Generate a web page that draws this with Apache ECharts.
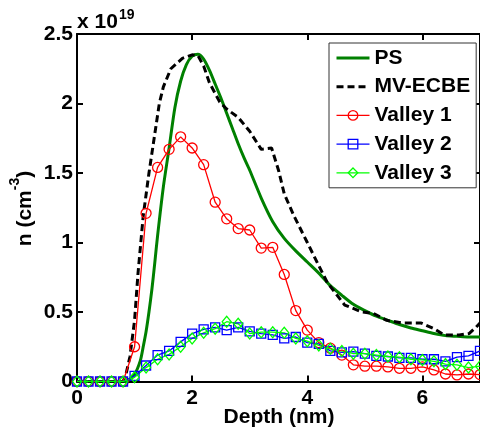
<!DOCTYPE html>
<html><head><meta charset="utf-8">
<script src="https://cdn.jsdelivr.net/npm/echarts@6/dist/echarts.min.js"></script>
<style>html,body{margin:0;padding:0;background:#fff}#c{width:480px;height:435px}</style>
</head><body><div id="c"></div>
<script>
// Depth grid for the valley curves (nm)
const depthV = [0,0.2,0.4,0.6,0.8,1.0,1.2,1.4,1.6,1.8,2.0,2.2,2.4,2.6,2.8,3.0,3.2,3.4,3.6,3.8,4.0,4.2,4.4,4.6,4.8,5.0,5.2,5.4,5.6,5.8,6.0,6.2,6.4,6.6,6.8,7.0];
// values in units of 1e19 cm^-3
const valley1 = [0,0,0,0,0,0.25,1.21,1.54,1.67,1.76,1.68,1.56,1.29,1.17,1.10,1.09,0.96,0.965,0.77,0.51,0.37,0.28,0.24,0.19,0.12,0.11,0.11,0.105,0.095,0.095,0.105,0.083,0.054,0.047,0.054,0.05];
const valley2 = [0,0,0,0,0,0.04,0.115,0.19,0.22,0.285,0.345,0.375,0.39,0.37,0.39,0.36,0.345,0.335,0.31,0.32,0.28,0.27,0.22,0.21,0.215,0.2,0.185,0.18,0.17,0.17,0.16,0.16,0.145,0.175,0.185,0.22];
const valley3 = [0,0,0,0,0,0.03,0.1,0.16,0.195,0.25,0.31,0.35,0.38,0.43,0.415,0.345,0.355,0.355,0.35,0.31,0.29,0.26,0.235,0.22,0.2,0.2,0.19,0.18,0.175,0.16,0.155,0.145,0.125,0.12,0.1,0.11];
const psDepth = [0,0.8,0.9,1.0,1.1,1.15,1.2,1.25,1.3,1.35,1.4,1.5,1.6,1.7,1.8,1.9,2.0,2.1,2.2,2.3,2.4,2.5,2.6,2.7,2.8,2.9,3.0,3.2,3.4,3.6,3.8,4.0,4.2,4.4,4.6,4.8,5.0,5.2,5.4,5.6,5.8,6.0,6.2,6.4,6.6,6.8,7.0];
const psN = [0,0,0.01,0.05,0.15,0.25,0.36,0.5,0.66,0.85,1.05,1.4,1.68,1.97,2.16,2.28,2.34,2.355,2.32,2.24,2.14,2.04,1.93,1.82,1.71,1.61,1.52,1.32,1.15,1.03,0.94,0.86,0.78,0.69,0.62,0.555,0.51,0.47,0.44,0.41,0.385,0.365,0.345,0.33,0.325,0.32,0.32];
const mvDepth = [0,0.8,0.85,0.92,1.0,1.06,1.15,1.25,1.34,1.43,1.5,1.63,1.83,2.0,2.1,2.2,2.3,2.48,2.6,2.8,3.0,3.2,3.38,3.5,3.6,3.77,4.0,4.18,4.35,4.65,4.95,5.15,5.38,5.66,5.98,6.2,6.38,6.64,6.81,6.93,7.0];
const mvN = [0,0,0.05,0.18,0.44,0.78,1.19,1.5,1.75,2.0,2.12,2.25,2.325,2.35,2.345,2.27,2.15,2.01,1.96,1.9,1.8,1.67,1.68,1.52,1.35,1.19,1.0,0.85,0.71,0.55,0.50,0.49,0.44,0.42,0.42,0.38,0.335,0.335,0.345,0.39,0.42];
const seriesNames = ['PS','MV-ECBE','Valley 1','Valley 2','Valley 3'];
const xRange = [0, 7], xStep = 2;
const yRange = [0, 2.5], yStep = 0.5;

const FONT = 'Liberation Sans, Arial, Helvetica, sans-serif';
const pair = (xs, ys) => xs.map((x, i) => [x, ys[i]]);
const C = {ps: '#008000', mv: '#000000', v1: '#ff0000', v2: '#0000ff', v3: '#00ff00'};

const chart = echarts.init(document.getElementById('c'), null, {renderer: 'canvas'});
const axisLine = {show: true, onZero: false, lineStyle: {color: '#000', width: 2}};
const axisTick = {show: true, inside: true, length: 6, lineStyle: {color: '#000', width: 2}};
const lbl = {color: '#000', fontSize: 21, fontWeight: 'bold', fontFamily: FONT};
const hollow = c => ({color: 'transparent', borderColor: c, borderWidth: 1.3});

chart.setOption({
  backgroundColor: '#fff',
  animation: false,
  grid: {left: 77, top: 34, width: 407, height: 347.5, containLabel: false},
  xAxis: [
    {type: 'value', min: xRange[0], max: xRange[1], interval: xStep, position: 'bottom',
     axisLine, axisTick, splitLine: {show: false},
     axisLabel: Object.assign({margin: 6, showMaxLabel: false}, lbl)},
    {type: 'value', min: xRange[0], max: xRange[1], interval: xStep, position: 'top',
     axisLine, axisTick, splitLine: {show: false}, axisLabel: {show: false}}
  ],
  yAxis: [
    {type: 'value', min: yRange[0], max: yRange[1], interval: yStep, position: 'left',
     axisLine, axisTick, splitLine: {show: false},
     axisLabel: Object.assign({margin: 4, formatter: v => String(v)}, lbl)},
    {type: 'value', min: yRange[0], max: yRange[1], interval: yStep, position: 'right',
     axisLine, axisTick, splitLine: {show: false}, axisLabel: {show: false}}
  ],
  legend: {
    orient: 'vertical', left: 329, top: 43,
    padding: [4.5, 6, 4.5, 6],
    itemWidth: 33, itemHeight: 12, itemGap: 7.7,
    backgroundColor: '#fff', borderColor: '#333', borderWidth: 1, borderRadius: 0,
    textStyle: {color: '#000', fontSize: 21, fontWeight: 'bold', fontFamily: FONT},
    data: [
      {name: seriesNames[0], itemStyle: {opacity: 0}, lineStyle: {color: C.ps, width: 3}},
      {name: seriesNames[1], itemStyle: {opacity: 0}, lineStyle: {color: C.mv, width: 3}},
      {name: seriesNames[2], itemStyle: hollow(C.v1), lineStyle: {color: C.v1, width: 1.3}},
      {name: seriesNames[3], itemStyle: hollow(C.v2), lineStyle: {color: C.v2, width: 1.3}},
      {name: seriesNames[4], itemStyle: hollow(C.v3), lineStyle: {color: C.v3, width: 1.3}}
    ]
  },
  series: [
    {name: seriesNames[0], type: 'line', data: pair(psDepth, psN), symbol: 'none', smooth: 0.25,
     color: C.ps, lineStyle: {color: C.ps, width: 3}},
    {name: seriesNames[1], type: 'line', data: pair(mvDepth, mvN), symbol: 'none',
     color: C.mv, lineStyle: {color: C.mv, width: 3, type: [7, 4]}},
    {name: seriesNames[2], type: 'line', data: pair(depthV, valley1), symbol: 'circle', symbolSize: 10,
     lineStyle: {color: C.v1, width: 1.3}, itemStyle: hollow(C.v1)},
    {name: seriesNames[3], type: 'line', data: pair(depthV, valley2), symbol: 'rect', symbolSize: 9,
     lineStyle: {color: C.v2, width: 1.3}, itemStyle: hollow(C.v2)},
    {name: seriesNames[4], type: 'line', data: pair(depthV, valley3), symbol: 'diamond', symbolSize: [9, 11],
     lineStyle: {color: C.v3, width: 1.3}, itemStyle: hollow(C.v3)}
  ],
  graphic: [
    {type: 'text', x: 77, y: 22.7, silent: true,
     style: {text: 'x 10', fill: '#000', fontSize: 21, fontWeight: 'bold', fontFamily: FONT, align: 'left', verticalAlign: 'middle'}},
    {type: 'text', x: 119, y: 15.1, silent: true,
     style: {text: '19', fill: '#000', fontSize: 14, fontWeight: 'bold', fontFamily: FONT, align: 'left', verticalAlign: 'middle'}},
    {type: 'text', x: 279, y: 417.7, silent: true,
     style: {text: 'Depth (nm)', fill: '#000', fontSize: 21, fontWeight: 'bold', fontFamily: FONT, align: 'center', verticalAlign: 'middle'}},
    {type: 'text', x: 25.7, y: 208.5, rotation: Math.PI / 2, silent: true,
     style: {text: '{a|n (cm}{b|-3}{a|)}', align: 'center', verticalAlign: 'middle',
       rich: {
         a: {fill: '#000', fontSize: 21, fontWeight: 'bold', fontFamily: FONT, lineHeight: 35},
         b: {fill: '#000', fontSize: 14, fontWeight: 'bold', fontFamily: FONT, lineHeight: 14, verticalAlign: 'top'}
       }}}
  ]
});
</script>
</body></html>
